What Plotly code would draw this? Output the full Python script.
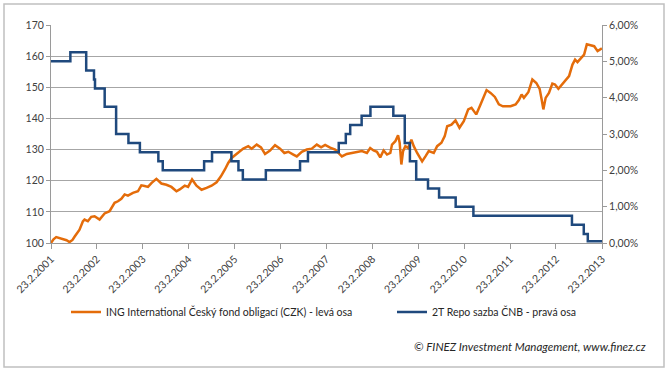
import pandas as pd
import plotly.graph_objects as go

# ---------------- data ----------------
# ING International Český fond obligací (CZK), decimal years
fund_years = [2001.145, 2001.20, 2001.259, 2001.403, 2001.483, 2001.549, 2001.614, 2001.658,
              2001.767, 2001.839, 2001.876, 2001.948, 2002.023, 2002.095, 2002.204, 2002.313,
              2002.422, 2002.531, 2002.604, 2002.678, 2002.750, 2002.822, 2002.931, 2003.040,
              2003.114, 2003.186, 2003.259, 2003.339, 2003.442, 2003.551, 2003.660, 2003.769,
              2003.879, 2003.951, 2004.060, 2004.132, 2004.219, 2004.315, 2004.425, 2004.534,
              2004.643, 2004.752, 2004.846, 2004.933, 2005.005, 2005.079, 2005.152, 2005.224,
              2005.333, 2005.442, 2005.516, 2005.625, 2005.719, 2005.807, 2005.916, 2006.025,
              2006.134, 2006.228, 2006.315, 2006.424, 2006.499, 2006.608, 2006.717, 2006.826,
              2006.935, 2007.029, 2007.117, 2007.226, 2007.335, 2007.407, 2007.481, 2007.590,
              2007.700, 2007.809, 2007.918, 2008.027, 2008.099, 2008.171, 2008.245, 2008.317,
              2008.390, 2008.464, 2008.536, 2008.573, 2008.645, 2008.704, 2008.739, 2008.776,
              2008.813, 2008.863, 2008.922, 2008.994, 2009.045, 2009.119, 2009.169, 2009.228,
              2009.300, 2009.372, 2009.481, 2009.555, 2009.649, 2009.721, 2009.774, 2009.868,
              2009.955, 2010.042, 2010.136, 2010.232, 2010.304, 2010.407, 2010.501, 2010.573,
              2010.632, 2010.719, 2010.813, 2010.900, 2010.988, 2011.084, 2011.156, 2011.265,
              2011.337, 2011.396, 2011.446, 2011.542, 2011.630, 2011.717, 2011.789, 2011.833,
              2011.870, 2011.920, 2011.992, 2012.066, 2012.123, 2012.197, 2012.248, 2012.342,
              2012.429, 2012.503, 2012.560, 2012.612, 2012.684, 2012.756, 2012.815, 2012.903,
              2012.975, 2013.049, 2013.121, 2013.143]
fund_values = [100.0, 101.2, 101.9, 101.4, 100.9, 100.3, 101.0, 102.0,
               104.3, 106.9, 107.5, 107.0, 108.4, 108.6, 107.5, 109.5,
               110.2, 112.9, 113.4, 114.2, 115.6, 115.2, 116.1, 116.6,
               118.5, 118.3, 118.0, 119.3, 120.6, 119.1, 118.7, 118.0,
               116.6, 117.2, 118.4, 118.0, 120.4, 118.4, 117.1, 117.7,
               118.4, 119.5, 121.4, 123.6, 125.7, 127.3, 128.2, 128.9,
               130.3, 131.1, 130.3, 131.6, 130.7, 128.6, 129.7, 131.4,
               130.3, 128.9, 129.3, 128.4, 127.8, 129.3, 130.0, 130.3,
               131.6, 130.7, 131.5, 130.6, 130.0, 128.9, 127.8, 128.6,
               128.9, 129.3, 129.5, 128.9, 130.5, 129.7, 129.3, 127.5,
               129.7, 128.4, 128.9, 131.6, 132.7, 134.6, 132.2, 125.2,
               129.5, 131.1, 130.5, 133.2, 131.1, 128.9, 127.5, 126.2,
               127.8, 129.5, 128.9, 131.1, 132.2, 134.3, 137.5, 138.0,
               139.4, 137.0, 139.1, 142.9, 143.4, 141.3, 144.5, 147.1,
               149.1, 148.2, 146.9, 144.5, 143.9, 143.9, 143.9, 144.5,
               145.9, 147.7, 146.6, 148.4, 152.5, 151.4, 149.5, 146.1,
               142.9, 146.6, 148.2, 151.2, 150.9, 149.5, 150.4, 152.0,
               153.6, 157.3, 158.9, 158.1, 159.5, 160.5, 163.8, 163.4,
               163.2, 161.6, 162.2, 162.5]

# 2T Repo sazba ČNB (%), change dates
repo_dates = ["2001-02-23", "2001-07-27", "2001-11-30", "2002-01-31", "2002-02-08",
              "2002-04-26", "2002-07-26", "2002-11-01", "2003-01-31", "2003-06-27",
              "2003-08-01", "2004-06-25", "2004-08-27", "2005-01-28", "2005-03-25",
              "2005-04-29", "2005-10-29", "2006-07-28", "2006-09-29", "2007-06-01",
              "2007-07-27", "2007-08-31", "2007-11-30", "2008-02-08", "2008-08-08",
              "2008-11-07", "2008-12-18", "2009-02-06", "2009-05-11", "2009-08-07",
              "2009-12-17", "2010-05-07", "2012-06-29", "2012-10-01", "2012-11-02",
              "2013-02-23"]
repo_rates = [5.00, 5.25, 4.75, 4.50, 4.25,
              3.75, 3.00, 2.75, 2.50, 2.25,
              2.00, 2.25, 2.50, 2.25, 2.00,
              1.75, 2.00, 2.25, 2.50, 2.75,
              3.00, 3.25, 3.50, 3.75, 3.50,
              2.75, 2.25, 1.75, 1.50, 1.25,
              1.00, 0.75, 0.50, 0.25, 0.05,
              0.05]

tick_dates = ["2001-02-23", "2002-02-23", "2003-02-23", "2004-02-23", "2005-02-23",
              "2006-02-23", "2007-02-23", "2008-02-23", "2009-02-23", "2010-02-23",
              "2011-02-23", "2012-02-23", "2013-02-23"]
tick_labels = ["23.2.2001", "23.2.2002", "23.2.2003", "23.2.2004", "23.2.2005",
               "23.2.2006", "23.2.2007", "23.2.2008", "23.2.2009", "23.2.2010",
               "23.2.2011", "23.2.2012", "23.2.2013"]

fund_name = "ING International Český fond obligací (CZK) - levá osa"
repo_name = "2T Repo sazba ČNB - pravá osa"
credit = "© FINEZ Investment Management, www.finez.cz"


def dec_to_date(y):
    yr = int(y)
    start = pd.Timestamp(year=yr, month=1, day=1)
    end = pd.Timestamp(year=yr + 1, month=1, day=1)
    return start + (end - start) * (y - yr)


fund_dates = [dec_to_date(y) for y in fund_years]
repo_frac = [r / 100 for r in repo_rates]

# ---------------- figure ----------------
FONT = "Lato"
ORANGE = "#E46C0A"
BLUE = "#1F497D"
AX = "#9a9a9a"

L, R, T, B = 51, 68, 25, 130
W, H = 670, 373
pw, ph = W - L - R, H - T - B


def px_x(p):
    return (p - L) / pw


def px_y(p):
    return (H - B - p) / ph


fig = go.Figure()
fig.add_trace(go.Scatter(x=fund_dates, y=fund_values, name=fund_name, mode="lines",
                         line=dict(color=ORANGE, width=2.5), yaxis="y", legend="legend"))
fig.add_trace(go.Scatter(x=pd.to_datetime(repo_dates), y=repo_frac, name=repo_name, mode="lines",
                         line=dict(color=BLUE, width=2.5, shape="hv"), yaxis="y2",
                         legend="legend2"))

leg_common = dict(orientation="h", xanchor="left", yanchor="middle",
                  font=dict(family=FONT, size=10.5, color="#262626"),
                  bgcolor="rgba(0,0,0,0)", itemwidth=30)

fig.update_layout(
    width=W, height=H,
    margin=dict(l=L, r=R, t=T, b=B, autoexpand=False),
    paper_bgcolor="white", plot_bgcolor="white",
    separators=",.",
    font=dict(family=FONT, size=10.5, color="#404040"),
    showlegend=True,
    legend=dict(x=px_x(66), y=px_y(312), **leg_common),
    legend2=dict(x=px_x(392), y=px_y(312), **leg_common),
    xaxis=dict(type="date", range=[tick_dates[0], tick_dates[-1]], automargin=False,
               tickmode="array", tickvals=tick_dates, ticktext=tick_labels,
               tickangle=-45, ticks="outside", ticklen=5, tickcolor=AX,
               showline=True, linecolor=AX, linewidth=1, showgrid=False, zeroline=False,
               tickfont=dict(family=FONT, size=10.5, color="#404040")),
    yaxis=dict(range=[100, 170], dtick=10, tick0=100, showgrid=True, gridcolor="#a6a6a6",
               gridwidth=1, showline=True, linecolor=AX, ticks="outside", ticklen=4,
               tickcolor=AX, zeroline=False, automargin=False,
               tickfont=dict(family=FONT, size=10.5, color="#404040")),
    yaxis2=dict(range=[0, 0.06], dtick=0.01, tick0=0, tickformat=".2%", overlaying="y",
                side="right", showgrid=False, showline=True, linecolor=AX, ticks="outside",
                ticklen=4, tickcolor=AX, zeroline=False, automargin=False,
                tickfont=dict(family=FONT, size=10.5, color="#404040")),
)

# chart area border
fig.add_shape(type="rect", xref="paper", yref="paper",
              x0=px_x(4), x1=px_x(664), y0=px_y(367), y1=px_y(4),
              line=dict(color="#c0c0c0", width=1.5), fillcolor="rgba(0,0,0,0)", layer="below")

fig.add_annotation(text="<i>" + credit + "</i>", xref="paper", yref="paper",
                   x=px_x(648), y=px_y(346), xanchor="right", yanchor="middle",
                   showarrow=False, font=dict(family=FONT, size=11.5, color="#262626"))

fig.write_html("out.html", config={"displayModeBar": False},
               post_script="document.body.style.margin='0';document.body.style.overflow='hidden';")
